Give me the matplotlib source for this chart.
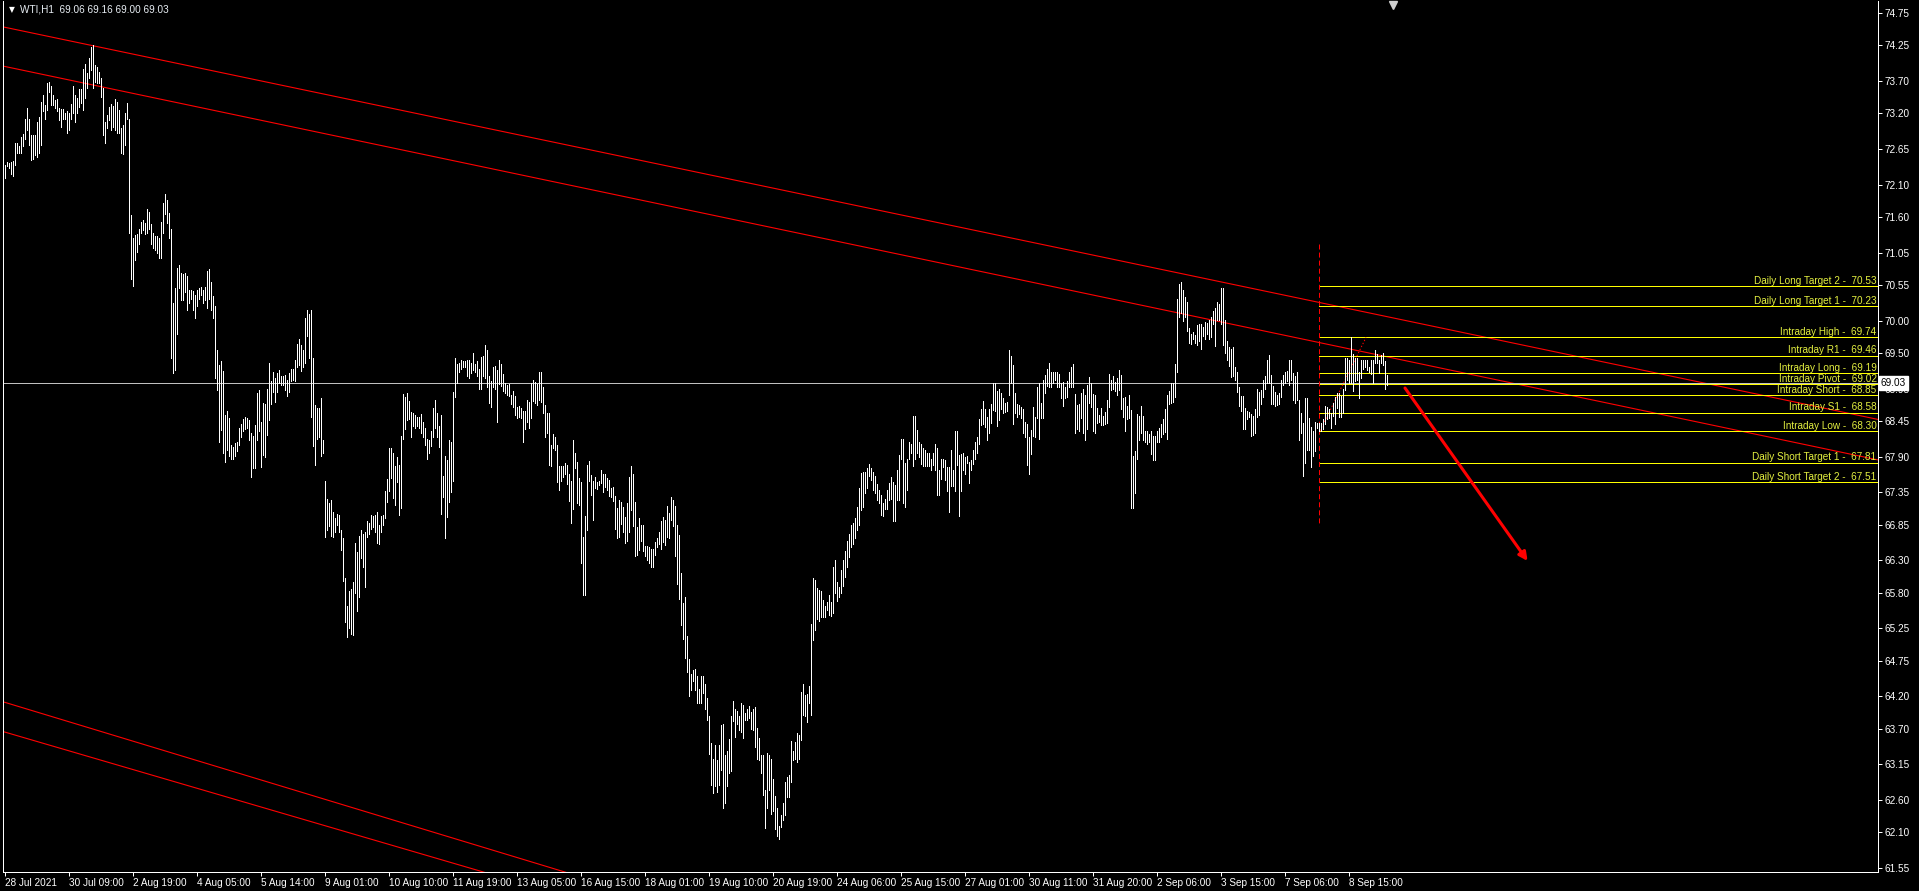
import matplotlib
matplotlib.use("Agg")
import matplotlib.pyplot as plt
import matplotlib.transforms as mtransforms
import numpy as np

# WTI,H1 bars 28 Jul - 8 Sep 2021, high / low of each hourly bar
highs = [
    72.40, 72.45, 72.44, 72.45, 72.46, 72.75, 72.74, 72.70, 72.83, 72.88,
    73.11, 73.28, 73.11, 72.87, 72.87, 72.87, 73.06, 73.14, 73.38, 73.48,
    73.33, 73.67, 73.69, 73.62, 73.48, 73.41, 73.42, 73.29, 73.26, 73.26,
    73.21, 73.23, 73.20, 73.34, 73.62, 73.48, 73.43, 73.57, 73.57, 73.88,
    73.96, 73.83, 74.06, 74.22, 74.26, 73.95, 73.92, 73.84, 73.74, 73.59,
    73.07, 73.17, 73.30, 73.34, 73.31, 73.42, 73.38, 73.25, 72.97, 73.02,
    73.20, 73.36, 73.12, 71.63, 71.27, 71.32, 71.34, 71.42, 71.53, 71.56,
    71.50, 71.72, 71.68, 71.49, 71.36, 71.30, 71.31, 71.27, 71.53, 71.82,
    71.96, 71.86, 71.66, 71.42, 70.27, 70.50, 70.82, 70.86, 70.73, 70.72,
    70.74, 70.69, 70.47, 70.47, 70.46, 70.40, 70.47, 70.51, 70.52, 70.47,
    70.52, 70.76, 70.79, 70.59, 70.38, 70.22, 69.55, 69.32, 69.37, 69.23,
    68.54, 68.60, 68.49, 68.08, 68.05, 68.11, 68.13, 68.35, 68.41, 68.48,
    68.51, 68.49, 68.46, 68.26, 68.22, 68.39, 68.88, 68.93, 68.44, 68.73,
    68.71, 68.95, 69.35, 69.07, 69.20, 69.12, 69.19, 69.24,
    69.14, 69.14, 69.16, 69.09, 69.19, 69.25, 69.25, 69.39, 69.64, 69.71,
    69.62, 69.54, 70.04, 70.16, 70.10, 70.17, 69.42, 68.70, 68.65, 68.65,
    68.80, 68.15, 67.52, 67.24, 67.18, 67.23, 67.05, 66.95, 67.01, 67.00,
    66.77, 66.64, 66.02, 65.59, 65.83, 65.85, 65.97, 66.56, 66.43, 66.67,
    66.77, 66.71, 66.74, 66.90, 66.87, 67.00, 66.98, 67.00, 67.05, 66.84,
    66.98, 67.00, 67.37, 67.55, 68.04, 68.04, 67.96, 67.75, 67.90, 67.77,
    68.22, 68.87, 68.82, 68.88, 68.76, 68.59, 68.57, 68.54, 68.51, 68.51,
    68.56, 68.44, 68.35, 68.18, 68.15, 68.30, 68.65, 68.77, 68.57, 68.37,
    68.54, 67.60, 67.91, 67.85, 68.16, 68.13, 68.90, 69.42, 69.33, 69.34,
    69.40, 69.37, 69.37, 69.39, 69.40, 69.35, 69.50, 69.33, 69.37, 69.26,
    69.44, 69.45, 69.62, 69.54, 69.14, 69.07, 69.28, 69.30, 69.24, 69.40,
    69.33, 69.18, 69.04, 69.00, 69.02, 68.85, 68.92, 68.83, 68.67, 68.68,
    68.65, 68.61, 68.61, 68.77, 68.75, 69.03, 69.09, 69.06, 69.02, 69.21,
    69.21, 68.97, 68.70, 68.57, 68.57, 68.08, 68.25, 68.21, 68.08, 67.75,
    67.75, 67.75, 67.81, 67.77, 67.63, 67.53, 68.15, 67.95, 67.82, 67.57,
    67.51, 66.66, 66.98, 67.77, 67.84, 67.62, 67.53, 67.59, 67.51, 67.53,
    67.69, 67.63, 67.63, 67.57, 67.54, 67.41, 67.43, 67.29, 67.10, 67.23,
    67.20, 67.13, 66.97, 67.18, 67.59, 67.75, 67.63, 67.20, 66.81, 66.96,
    66.84, 66.84, 66.52, 66.52, 66.51, 66.48, 66.48, 66.59, 66.64, 66.74,
    66.91, 66.97, 66.93, 67.14, 67.03, 67.27, 67.23, 67.14, 66.84, 66.69,
    66.11, 65.64, 65.74, 65.13, 64.77, 64.55, 64.60, 64.62, 64.51, 64.32,
    64.51, 64.51, 64.39, 64.17, 63.89, 63.48, 63.24, 63.45, 63.22, 63.45,
    63.76, 63.78, 63.29, 63.36, 63.54, 63.89, 64.13, 64.01, 63.98, 63.90,
    64.10, 64.07, 63.95, 64.01, 64.05, 63.96, 64.00, 64.03, 63.71, 63.55,
    63.29, 63.29, 62.76, 63.33, 63.29, 63.23, 62.93, 62.66, 62.47, 62.20,
    62.37, 62.55, 62.88, 62.96, 62.98, 63.51, 63.36, 63.50, 63.63, 63.60,
    64.27, 64.39, 64.22, 64.24, 64.36, 65.32, 66.02, 65.99, 65.88, 65.84,
    65.83, 65.69, 65.59, 65.66, 65.76, 65.66, 66.20, 66.30, 65.97, 65.89,
    66.15, 66.30, 66.45, 66.60, 66.70, 66.85, 66.88, 66.95, 67.12, 67.41,
    67.65, 67.67, 67.67, 67.72, 67.78, 67.72, 67.67, 67.60, 67.48, 67.38,
    67.31, 67.18, 67.24, 67.38, 67.49, 67.58, 67.51, 67.46, 67.69, 67.92,
    68.18, 68.18, 67.80, 67.87, 68.12, 68.10, 68.53, 68.53, 68.31, 68.13,
    68.10, 68.03, 68.00, 67.96, 67.95, 67.87, 67.96, 68.10, 68.03, 67.69,
    67.87, 67.87, 67.85, 67.74, 67.74, 68.00, 67.70, 68.29, 68.29, 67.92,
    67.94, 67.95, 67.90, 67.91, 67.82, 67.85, 68.01, 68.12, 68.21, 68.48,
    68.63, 68.76, 68.63, 68.52, 68.63, 68.71, 69.03, 69.03, 68.92, 68.94,
    68.88, 68.81, 68.73, 68.75, 69.55, 69.45, 69.31, 68.89, 68.71, 68.70,
    68.66, 68.63, 68.44, 68.40, 68.20, 68.31, 68.66, 68.52, 68.97, 69.04,
    68.73, 69.08, 69.16, 69.25, 69.34, 69.21, 69.21, 69.20, 69.21, 69.18,
    69.03, 69.06, 68.97, 69.07, 69.21, 69.28, 69.33, 68.87, 68.70, 68.72,
    68.89, 68.95, 68.85, 69.01, 69.13, 69.03, 68.87, 68.85, 68.65, 68.54,
    68.65, 68.53, 68.59, 68.78, 69.18, 69.09, 69.14, 69.06, 69.12, 69.24,
    69.16, 68.80, 68.82, 68.68, 68.85, 68.62, 67.91, 67.99, 68.56, 68.53,
    68.68, 68.53, 68.30, 68.30, 68.25, 68.30, 68.22, 68.22, 68.30, 68.35,
    68.41, 68.48, 68.63, 68.85, 68.92, 69.04, 69.04, 69.33, 70.33, 70.56,
    70.60, 70.47, 70.36, 70.29, 69.88, 69.79, 69.83, 69.78, 69.93, 69.95,
    69.95, 69.90, 69.98, 69.97, 70.01, 70.06, 70.15, 70.20, 70.29, 70.26,
    70.51, 70.50, 70.01, 69.69, 69.60, 69.57, 69.60, 69.29, 69.21, 68.98,
    68.83, 68.83, 68.65, 68.61, 68.59, 68.56, 68.53, 68.63, 68.95, 68.90,
    68.93, 69.09, 69.14, 69.39, 69.47, 69.16, 68.99, 68.90, 68.85, 68.89,
    69.09, 69.16, 69.21, 69.23, 69.40, 69.40, 69.19, 69.14, 69.20, 68.78,
    68.58, 68.42, 68.80, 68.80, 68.49, 68.36, 68.30, 68.44, 68.42, 68.42,
    68.42, 68.48, 68.68, 68.67, 68.63, 68.58, 68.73, 68.82, 68.88, 68.88,
    68.83, 68.95, 69.43, 69.42, 69.40, 69.74, 69.49, 69.43, 69.43, 69.21,
    69.39, 69.40, 69.39, 69.40, 69.29, 69.39, 69.40, 69.55, 69.49, 69.39,
    69.47, 69.50, 69.37, 69.16,
]
lows = [
    72.20, 72.38, 72.35, 72.27, 72.24, 72.40, 72.59, 72.59, 72.59, 72.69,
    72.81, 72.94, 72.71, 72.48, 72.49, 72.56, 72.52, 72.59, 72.71, 73.23,
    73.11, 73.25, 73.53, 73.33, 73.33, 73.29, 73.23, 73.10, 72.99, 73.11,
    73.12, 72.90, 72.95, 73.12, 73.21, 73.06, 73.20, 73.30, 73.36, 73.25,
    73.43, 73.59, 73.74, 73.87, 73.59, 73.69, 73.67, 73.67, 73.46, 72.87,
    72.75, 72.97, 73.10, 72.94, 72.99, 72.94, 72.90, 72.89, 72.59, 72.57,
    72.71, 73.11, 71.35, 70.65, 70.54, 70.94, 71.06, 71.19, 71.35, 71.40,
    71.34, 71.35, 71.41, 71.19, 71.12, 71.09, 71.05, 70.96, 70.96, 71.35,
    71.65, 71.50, 71.27, 69.42, 69.19, 69.24, 69.80, 70.50, 70.32, 70.32,
    70.45, 70.16, 70.27, 70.34, 70.16, 70.04, 70.22, 70.34, 70.40, 70.27,
    70.32, 70.19, 70.34, 70.17, 70.04, 69.11, 68.93, 68.13, 68.31, 67.96,
    67.82, 68.01, 67.91, 67.87, 67.87, 67.91, 67.98, 68.08, 68.21, 68.29,
    68.32, 68.34, 68.16, 67.59, 67.72, 67.72, 68.16, 68.29, 67.74, 67.93,
    67.90, 68.24, 68.47, 68.72, 68.90, 68.75, 68.90, 69.03,
    69.01, 69.01, 68.93, 68.84, 68.90, 69.07, 69.08, 69.07, 69.28, 69.31,
    69.23, 69.29, 69.35, 69.76, 69.43, 68.51, 68.06, 67.77, 68.18, 68.21,
    67.91, 67.96, 66.66, 66.77, 66.83, 66.67, 66.66, 66.74, 66.84, 66.73,
    66.46, 65.98, 65.35, 65.11, 65.25, 65.17, 65.15, 65.80, 65.52, 65.73,
    66.33, 66.19, 65.89, 66.66, 66.71, 66.78, 66.82, 66.73, 66.56, 66.55,
    66.73, 66.84, 66.96, 67.20, 67.37, 67.57, 67.26, 67.15, 67.51, 67.00,
    67.10, 68.17, 68.32, 68.46, 68.48, 68.21, 68.37, 68.35, 68.37, 68.35,
    68.26, 68.20, 68.08, 67.87, 67.96, 68.06, 68.21, 68.34, 68.20, 68.05,
    67.01, 67.28, 66.64, 66.97, 67.20, 67.36, 67.53, 68.82, 69.03, 69.20,
    69.25, 69.28, 69.28, 69.14, 69.11, 69.19, 69.24, 69.20, 69.14, 68.95,
    68.94, 69.14, 69.11, 68.98, 68.73, 68.66, 68.97, 68.95, 68.44, 69.02,
    68.99, 68.92, 68.89, 68.85, 68.83, 68.71, 68.67, 68.54, 68.49, 68.51,
    68.49, 68.12, 68.32, 68.44, 68.34, 68.49, 68.76, 68.73, 68.70, 68.77,
    68.75, 68.57, 68.21, 68.27, 67.77, 67.75, 68.04, 68.00, 67.51, 67.39,
    67.53, 67.58, 67.63, 67.48, 67.22, 66.88, 67.09, 67.72, 67.19, 67.15,
    66.26, 65.76, 65.76, 66.77, 67.53, 67.31, 66.93, 67.41, 67.40, 67.46,
    67.49, 67.36, 67.43, 67.38, 67.29, 67.28, 67.22, 66.79, 66.64, 66.66,
    66.86, 66.73, 66.56, 66.60, 66.74, 67.08, 66.83, 66.36, 66.38, 66.46,
    66.60, 66.45, 66.36, 66.31, 66.26, 66.20, 66.20, 66.38, 66.51, 66.55,
    66.48, 66.59, 66.53, 66.66, 66.65, 66.92, 66.83, 66.37, 65.93, 65.70,
    65.30, 65.09, 64.79, 64.58, 64.20, 64.30, 64.44, 64.30, 64.10, 64.10,
    64.10, 64.25, 64.00, 63.84, 63.31, 62.83, 62.71, 62.81, 62.73, 62.83,
    63.07, 62.47, 62.56, 62.81, 63.02, 63.04, 63.82, 63.57, 63.78, 63.68,
    63.65, 63.55, 63.83, 63.84, 63.87, 63.69, 63.68, 63.42, 63.24, 63.21,
    63.01, 62.68, 62.16, 62.47, 62.76, 62.38, 62.43, 62.15, 62.04, 61.99,
    62.19, 62.29, 62.37, 62.64, 62.65, 62.88, 63.21, 63.24, 63.19, 63.24,
    63.52, 63.91, 63.90, 63.81, 64.09, 63.91, 65.07, 65.22, 65.39, 65.37,
    65.42, 65.42, 65.42, 65.53, 65.46, 65.44, 65.49, 65.79, 65.67, 65.74,
    65.80, 65.90, 66.05, 66.20, 66.35, 66.50, 66.55, 66.65, 66.77, 66.85,
    67.07, 67.12, 67.34, 67.41, 67.60, 67.54, 67.38, 67.34, 67.23, 67.19,
    67.00, 66.98, 67.09, 67.09, 67.23, 67.24, 66.90, 66.90, 67.23, 67.23,
    67.86, 67.18, 67.13, 67.39, 67.87, 67.95, 67.75, 67.87, 67.95, 67.89,
    67.79, 67.75, 67.75, 67.75, 67.75, 67.70, 67.77, 67.69, 67.31, 67.31,
    67.55, 67.74, 67.54, 67.37, 67.05, 67.44, 67.45, 67.37, 67.77, 66.98,
    67.37, 67.69, 67.63, 67.80, 67.50, 67.69, 67.79, 67.86, 67.95, 68.10,
    68.39, 68.40, 68.36, 68.15, 68.27, 68.42, 68.62, 68.61, 68.37, 68.47,
    68.63, 68.58, 68.59, 68.61, 68.85, 69.03, 68.40, 68.58, 68.51, 68.56,
    68.49, 68.27, 68.20, 67.77, 67.63, 67.94, 68.22, 68.20, 68.49, 68.18,
    68.49, 68.49, 68.89, 68.99, 68.97, 68.97, 69.03, 69.08, 68.97, 68.97,
    68.80, 68.68, 68.80, 68.82, 68.97, 68.97, 68.97, 68.27, 68.32, 68.30,
    68.49, 68.27, 68.16, 68.32, 68.73, 68.66, 68.30, 68.27, 68.42, 68.44,
    68.39, 68.39, 68.41, 68.42, 68.66, 68.93, 68.95, 68.92, 68.85, 68.93,
    68.64, 68.52, 68.30, 68.48, 68.49, 67.10, 67.10, 67.34, 67.87, 68.15,
    68.26, 68.15, 68.12, 68.10, 68.13, 67.94, 67.85, 67.85, 68.12, 68.12,
    68.20, 68.25, 68.28, 68.17, 68.71, 68.73, 68.75, 68.82, 69.21, 70.05,
    70.12, 70.00, 70.05, 69.84, 69.66, 69.64, 69.71, 69.66, 69.62, 69.69,
    69.56, 69.76, 69.71, 69.79, 69.71, 69.74, 69.95, 69.61, 70.01, 70.01,
    69.95, 69.62, 69.50, 69.40, 69.30, 69.13, 69.14, 69.09, 68.90, 68.68,
    68.61, 68.32, 68.32, 68.48, 68.52, 68.22, 68.23, 68.27, 68.52, 68.54,
    68.72, 68.82, 68.94, 69.03, 69.04, 68.72, 68.71, 68.68, 68.70, 68.71,
    68.82, 69.01, 69.03, 69.07, 69.01, 69.08, 68.78, 68.73, 68.78, 68.15,
    68.27, 67.60, 67.80, 68.00, 68.01, 67.74, 67.91, 67.99, 68.34, 68.30,
    68.29, 68.32, 68.40, 68.48, 68.49, 68.35, 68.53, 68.40, 68.65, 68.52,
    68.52, 68.57, 68.93, 69.09, 69.03, 69.03, 68.92, 69.07, 69.09, 68.80,
    69.11, 69.26, 69.29, 69.24, 69.21, 69.18, 69.04, 69.35, 69.34, 69.19,
    69.34, 69.32, 68.95, 69.00,
]

x_tick_bars = [0, 32, 64, 96, 128, 160, 192, 224, 256, 288, 320,
               352, 384, 416, 448, 480, 512, 544, 576, 608, 640, 672]
x_tick_labels = ["28 Jul 2021", "30 Jul 09:00", "2 Aug 19:00", "4 Aug 05:00",
                 "5 Aug 14:00", "9 Aug 01:00", "10 Aug 10:00", "11 Aug 19:00",
                 "13 Aug 05:00", "16 Aug 15:00", "18 Aug 01:00", "19 Aug 10:00",
                 "20 Aug 19:00", "24 Aug 06:00", "25 Aug 15:00", "27 Aug 01:00",
                 "30 Aug 11:00", "31 Aug 20:00", "2 Sep 06:00", "3 Sep 15:00",
                 "7 Sep 06:00", "8 Sep 15:00"]
y_ticks = [74.75, 74.25, 73.70, 73.20, 72.65, 72.10, 71.60, 71.05, 70.55, 70.00,
           69.50, 68.95, 68.45, 67.90, 67.35, 66.85, 66.30, 65.80, 65.25, 64.75,
           64.20, 63.70, 63.15, 62.60, 62.10, 61.55]

level_names = ["Daily Long Target 2", "Daily Long Target 1", "Intraday High",
               "Intraday R1", "Intraday Long", "Intraday Pivot", "Intraday Short",
               "Intraday S1", "Intraday Low", "Daily Short Target 1",
               "Daily Short Target 2"]
level_prices = [70.53, 70.23, 69.74, 69.46, 69.19, 69.02, 68.85, 68.58, 68.30,
                67.81, 67.51]

bid = 69.03
header = "WTI,H1  69.06 69.16 69.00 69.03"

# trendlines as (bar index, price) end points
chan_top_x, chan_top_y = [-2.5, 936.5], [74.545, 68.475]
chan_mid_x, chan_mid_y = [-2.5, 936.5], [73.94, 67.85]
chan_low1_x, chan_low1_y = [-2.5, 300.0], [64.13, 61.30]
chan_low2_x, chan_low2_y = [-2.5, 260.0], [63.67, 61.30]
session_x, session_y = [657.15, 657.15], [71.18, 66.83]
dotted_x, dotted_y = [657.5, 680.5], [68.30, 69.74]
arrow_from = (700.0, 68.96)
arrow_to = (761.3, 66.29)

plt.rcParams['font.family'] = ['Liberation Sans', 'DejaVu Sans']
plt.rcParams['lines.scale_dashes'] = False
FS = 7.2

W, H = 1919, 891
fig = plt.figure(figsize=(W / 100, H / 100), dpi=100, facecolor='black')
ax = fig.add_axes([3 / W, 19 / H, 1875 / W, 871 / H], facecolor='black')
px = 0.72  # one pixel in points

ax.set_xlim(-1, 936.5)
ax.set_ylim(61.488, 74.935)

bars = np.arange(len(highs))
ax.vlines(bars, lows, highs, colors='white', linewidth=px, antialiased=False, zorder=3)

# channel lines
for xs, ys in [(chan_top_x, chan_top_y), (chan_mid_x, chan_mid_y),
               (chan_low1_x, chan_low1_y), (chan_low2_x, chan_low2_y)]:
    ax.plot(xs, ys, color='#ff0000', lw=0.8, antialiased=True, zorder=2)

# bid line
ax.axhline(bid, color='#c0c0c0', lw=px, antialiased=False, zorder=2)

# pivot levels
ax.hlines(level_prices, session_x[0], 936.5, colors='#ffff00', lw=px,
          antialiased=False, zorder=2)
for name, p in zip(level_names, level_prices):
    ax.annotate(f"{name} -  {p:.2f}", xy=(936.5, p), xytext=(-1.0, 1.6),
                textcoords='offset points', ha='right', va='baseline',
                color='#e4f040', fontsize=FS, zorder=4)

ax.plot(session_x, session_y, color='#ff0000', lw=px, ls=(0, (3.6, 2.2)), zorder=2)
ax.plot(dotted_x, dotted_y, color='#ff0000', lw=px, ls=(0, (1.0, 1.4)), zorder=2)
ax.annotate("", xy=arrow_to, xytext=arrow_from,
            arrowprops=dict(arrowstyle='-|>,head_length=0.5,head_width=0.25',
                            color='#ff0000', lw=2.2, shrinkA=0, shrinkB=0), zorder=5)

# chart shift marker
ax.plot([694], [0.995], marker='v', ms=6, color='#d0d0d0', mec='#d0d0d0',
        transform=mtransforms.blended_transform_factory(ax.transData, ax.transAxes),
        clip_on=False, zorder=6)

for s in ['left', 'right', 'bottom']:
    ax.spines[s].set_color('white')
    ax.spines[s].set_linewidth(px)
ax.spines['top'].set_visible(False)

ax.yaxis.tick_right()
ax.set_yticks(y_ticks)
ax.set_yticklabels([f"{v:.2f}" for v in y_ticks])
ax.set_xticks(x_tick_bars)
ax.set_xticklabels(x_tick_labels, ha='left')
ax.tick_params(axis='y', colors='white', direction='out', length=3, width=px,
               pad=2, labelsize=FS)
ax.tick_params(axis='x', colors='white', direction='out', length=3, width=px,
               pad=1.5, labelsize=FS)

# price box for the bid
ax.text(1.0015, bid, f"{bid:.2f}", ha='left', va='center', fontsize=FS, color='black',
        transform=mtransforms.blended_transform_factory(ax.transAxes, ax.transData),
        bbox=dict(boxstyle='square,pad=0.2', fc='white', ec='white'),
        clip_on=False, zorder=10)

fig.text(9 / W, 1 - 10 / H, "▼", family='DejaVu Sans', fontsize=5.5, color='white',
         va='center', ha='left')
fig.text(20 / W, 1 - 10 / H, header, fontsize=FS, color='#e8eef4', va='center', ha='left')

fig.savefig("out.png", dpi=100, facecolor='black')
